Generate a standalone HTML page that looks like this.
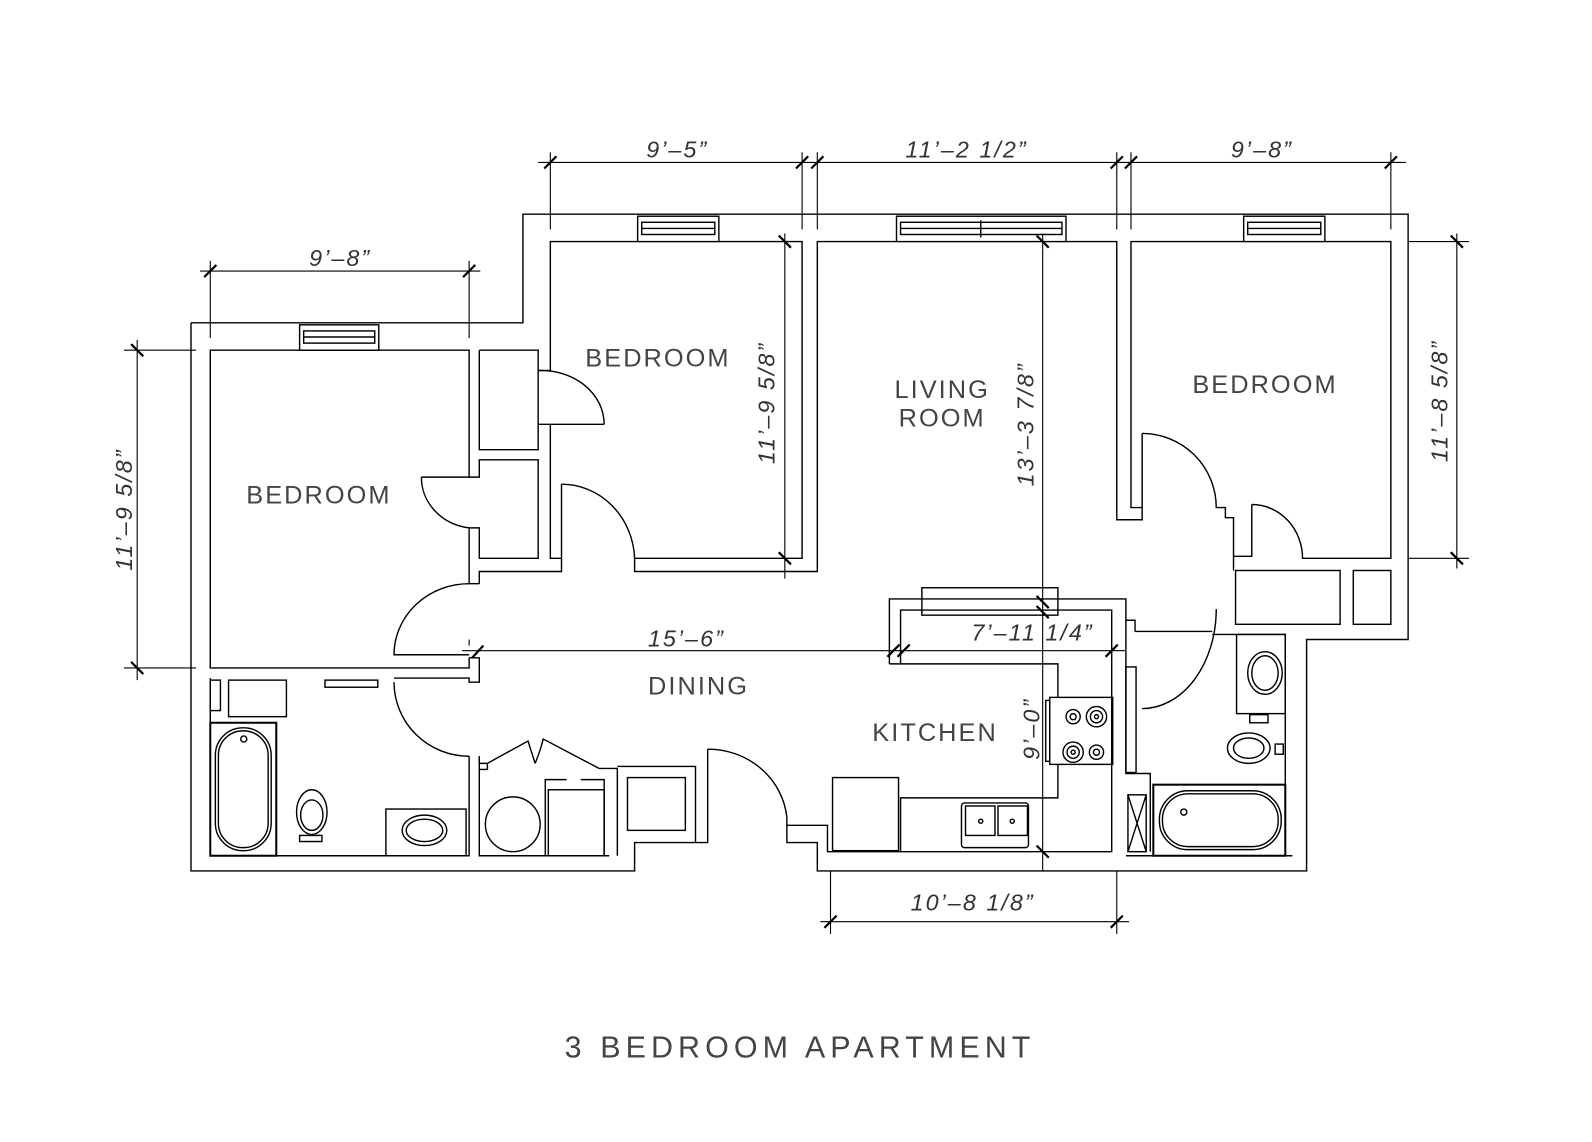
<!DOCTYPE html>
<html><head><meta charset="utf-8"><style>
html,body{margin:0;padding:0;background:#fff;}
svg{display:block;}
text{font-family:"Liberation Sans",sans-serif;fill:#333;}
.d{font-style:italic;font-size:23px;letter-spacing:2px;}
.l{font-size:25px;letter-spacing:2px;fill:#444;}
</style></head><body>
<svg width="1592" height="1142" viewBox="0 0 1568 1125" xmlns="http://www.w3.org/2000/svg">
<g fill="none" stroke="#000" stroke-width="1.4">
<polyline points="188,318 515,318 515,211 1387,211 1387,630 1287,630 1287,858 805,858 805,830 775,830 775,805"/>
<polyline points="697,738 697,830 625,830 625,858 188,858 188,318"/>
<polyline points="462,470 462,345 207,345 207,658 462,658 462,648"/>
<polyline points="462,520 462,575"/>
<polyline points="415,470 472,470 472,453 530,453 530,550 472,550 472,520 462,520"/>
<path d="M415,470 A54,50 0 0 0 462,520"/>
<polyline points="472,345 530,345 530,443 472,443 472,345"/>
<polyline points="472,575 462,575"/>
<polyline points="472,575 472,563 553,563 553,477"/>
<path d="M462,575 A74,70 0 0 0 388,645 L462,645"/>
<polyline points="462,648 472,648 472,672 462,672 462,668 388,668"/>
<polyline points="542,365 542,238 628,238"/>
<polyline points="708,238 790,238 790,550 625,550"/>
<polyline points="542,418 542,550 553,550"/>
<polyline points="530,365 542,365"/><polyline points="530,418 595,418"/>
<path d="M530,365 A62,53 0 0 1 595,418"/>
<path d="M553,477 A72,76 0 0 1 625,550 L625,563 805,563 805,238 883,238"/>
<polyline points="1050,238 1100,238 1100,512 1125,512 1125,427"/>
<path d="M1125,427 A73,73 0 0 1 1198,500 L1207,500 1207,510 1215,510 1215,548 1233,548 1233,497"/>
<path d="M1233,497 A50,53 0 0 1 1283,550 L1370,550 1370,238 1305,238"/>
<polyline points="1225,238 1114,238 1114,500 1125,500"/>
<rect x="1217" y="562" width="103" height="53"/>
<rect x="1333" y="562" width="37" height="53"/>
<polyline points="1215,548 1215,562"/>
<g>
<rect x="295" y="320" width="78" height="25"/><rect x="299" y="326" width="70" height="12"/><line x1="299" y1="332" x2="369" y2="332"/>
<rect x="628" y="213" width="80" height="25"/><rect x="632" y="219" width="72" height="12"/><line x1="632" y1="225" x2="704" y2="225"/>
<rect x="883" y="213" width="167" height="25"/><rect x="887" y="219" width="159" height="12"/><line x1="887" y1="225" x2="1046" y2="225"/><line x1="966" y1="217" x2="966" y2="234"/>
<rect x="1225" y="213" width="80" height="25"/><rect x="1229" y="219" width="72" height="12"/><line x1="1229" y1="225" x2="1301" y2="225"/>
</g>
<polyline points="207,668 207,843 462,843 462,745"/>
<path d="M388,672 A74,73 0 0 0 462,745"/>
<polyline points="472,745 472,843 600,843"/>
<rect x="207" y="670" width="10" height="30"/>
<rect x="225" y="670" width="57" height="36"/>
<rect x="320" y="670" width="52" height="7"/>
<rect x="207" y="712" width="65" height="131" stroke-width="2"/>
<rect x="212" y="717" width="55" height="121" rx="27"/>
<rect x="215" y="720" width="49" height="115" rx="24"/>
<circle cx="240" cy="728" r="3"/>
<ellipse cx="307" cy="800" rx="15" ry="22"/><ellipse cx="307" cy="803" rx="11" ry="15"/>
<rect x="295" y="823" width="22" height="6"/>
<rect x="380" y="797" width="79" height="46"/>
<ellipse cx="418" cy="818" rx="22" ry="15"/><ellipse cx="418" cy="818" rx="18" ry="11"/>
<polyline points="472,745 472,752 480,752 480,758 472,758"/>
<polyline points="480,752 520,730 527,752"/>
<path d="M527,752 Q532,740 535,728 L590,757 598,757"/>
<circle cx="505" cy="812" r="27"/>
<polyline points="537,843 537,768 558,768"/><polyline points="572,768 595,768 595,843"/>
<rect x="540" y="778" width="55" height="65"/>
<polyline points="598,757 608,757 608,843"/>
<polyline points="608,755 685,755 685,830"/>
<rect x="618" y="766" width="57" height="52"/>
<path d="M697,738 A78,75 0 0 1 775,805"/>
<polyline points="876,654 876,590 1109,590 1109,611 1118,611 1118,622"/>
<polyline points="887,654 887,601 1095,601 1095,839 815,839 815,813 775,813"/>
<rect x="908" y="579" width="134" height="27"/>
<polyline points="876,654 1042,654 1042,687"/>
<rect x="1034" y="687" width="62" height="66"/>
<rect x="1030" y="690" width="4" height="60"/>
<circle cx="1057" cy="706" r="7"/><circle cx="1057" cy="706" r="3"/>
<circle cx="1080" cy="706" r="10"/><circle cx="1080" cy="706" r="6"/><circle cx="1080" cy="706" r="2"/>
<circle cx="1057" cy="741" r="10"/><circle cx="1057" cy="741" r="6"/><circle cx="1057" cy="741" r="2"/>
<circle cx="1080" cy="741" r="7"/><circle cx="1080" cy="741" r="3"/>
<polyline points="1042,753 1042,786 887,786 887,839"/>
<rect x="820" y="766" width="65" height="72"/>
<rect x="947" y="791" width="66" height="44" rx="3"/>
<rect x="951" y="794" width="29" height="29"/><rect x="983" y="794" width="29" height="29"/>
<circle cx="966" cy="809" r="2"/><circle cx="997" cy="809" r="2"/>
<polyline points="1109,611 1109,762 1133,762 1133,839"/>
<rect x="1109" y="657" width="10" height="104"/>
<polyline points="1118,622 1194,622"/>
<path d="M1198,600 A73,98 0 0 1 1125,698"/>
<polyline points="1194,625 1266,625 1266,843"/>
<rect x="1218" y="625" width="48" height="78"/>
<ellipse cx="1246" cy="663" rx="17" ry="21"/><ellipse cx="1246" cy="663" rx="13" ry="17"/>
<rect x="1231" y="704" width="18" height="8"/>
<ellipse cx="1230" cy="737" rx="21" ry="15"/><ellipse cx="1230" cy="737" rx="15" ry="10"/>
<rect x="1256" y="733" width="8" height="10"/>
<rect x="1136" y="773" width="130" height="70" stroke-width="2"/>
<rect x="1142" y="779" width="120" height="58" rx="28"/>
<rect x="1145" y="782" width="114" height="52" rx="25"/>
<circle cx="1166" cy="800" r="3"/>
<rect x="1111" y="783" width="18" height="56"/>
<line x1="1111" y1="783" x2="1129" y2="839"/><line x1="1129" y1="783" x2="1111" y2="839"/>
<line x1="1109" y1="843" x2="1273" y2="843"/>
</g>
<g fill="none" stroke="#000" stroke-width="1.1">
<line x1="530" y1="160" x2="1385" y2="160"/>
<line x1="542" y1="150" x2="542" y2="226"/><line x1="790" y1="150" x2="790" y2="226"/><line x1="805" y1="150" x2="805" y2="226"/>
<line x1="1100" y1="150" x2="1100" y2="226"/><line x1="1114" y1="150" x2="1114" y2="226"/><line x1="1370" y1="150" x2="1370" y2="226"/>
<line x1="197" y1="267" x2="473" y2="267"/>
<line x1="207" y1="257" x2="207" y2="333"/><line x1="462" y1="257" x2="462" y2="333"/>
<line x1="135" y1="335" x2="135" y2="670"/>
<line x1="122" y1="345" x2="193" y2="345"/><line x1="122" y1="658" x2="193" y2="658"/>
<line x1="773" y1="230" x2="773" y2="570"/>
<line x1="1027" y1="230" x2="1027" y2="858"/>
<line x1="1435" y1="230" x2="1435" y2="560"/>
<line x1="1387" y1="238" x2="1447" y2="238"/><line x1="1387" y1="550" x2="1447" y2="550"/>
<line x1="808" y1="908" x2="1112" y2="908"/>
<line x1="818" y1="858" x2="818" y2="920"/><line x1="1100" y1="858" x2="1100" y2="920"/>
<line x1="455" y1="641" x2="1108" y2="641"/>
<line x1="462" y1="630" x2="462" y2="636"/>
</g>
<g stroke="#000" stroke-width="2.2">
<line x1="536" y1="166" x2="548" y2="154"/><line x1="784" y1="166" x2="796" y2="154"/><line x1="799" y1="166" x2="811" y2="154"/>
<line x1="1094" y1="166" x2="1106" y2="154"/><line x1="1108" y1="166" x2="1120" y2="154"/><line x1="1364" y1="166" x2="1376" y2="154"/>
<line x1="201" y1="273" x2="213" y2="261"/><line x1="456" y1="273" x2="468" y2="261"/>
<line x1="129" y1="339" x2="141" y2="351"/><line x1="129" y1="652" x2="141" y2="664"/>
<line x1="767" y1="232" x2="779" y2="244"/><line x1="767" y1="544" x2="779" y2="556"/>
<line x1="1021" y1="232" x2="1033" y2="244"/><line x1="1021" y1="587" x2="1033" y2="599"/><line x1="1021" y1="597" x2="1033" y2="609"/><line x1="1021" y1="833" x2="1033" y2="845"/>
<line x1="1429" y1="232" x2="1441" y2="244"/><line x1="1429" y1="544" x2="1441" y2="556"/>
<line x1="812" y1="914" x2="824" y2="902"/><line x1="1094" y1="914" x2="1106" y2="902"/>
<line x1="465" y1="648" x2="476" y2="636"/><line x1="874" y1="647" x2="886" y2="635"/><line x1="884" y1="647" x2="896" y2="635"/><line x1="1089" y1="647" x2="1101" y2="635"/>
</g>
<text class="d" x="335" y="262" text-anchor="middle">9’–8”</text>
<text class="d" x="667" y="155" text-anchor="middle">9’–5”</text>
<text class="d" x="952" y="155" text-anchor="middle">11’–2 1/2”</text>
<text class="d" x="1243" y="155" text-anchor="middle">9’–8”</text>
<text class="d" transform="translate(130,502) rotate(-90)" text-anchor="middle">11’–9 5/8”</text>
<text class="d" transform="translate(763,397) rotate(-90)" text-anchor="middle">11’–9 5/8”</text>
<text class="d" transform="translate(1018,418) rotate(-90)" text-anchor="middle">13’–3 7/8”</text>
<text class="d" transform="translate(1426,395) rotate(-90)" text-anchor="middle">11’–8 5/8”</text>
<text class="d" transform="translate(1024,718) rotate(-90)" text-anchor="middle">9’–0”</text>
<text class="d" x="676" y="637" text-anchor="middle">15’–6”</text>
<text class="d" x="1017" y="631" text-anchor="middle">7’–11 1/4”</text>
<text class="d" x="958" y="897" text-anchor="middle">10’–8 1/8”</text>
<text class="l" x="314" y="496" text-anchor="middle">BEDROOM</text>
<text class="l" x="648" y="361" text-anchor="middle">BEDROOM</text>
<text class="l" x="1246" y="387" text-anchor="middle">BEDROOM</text>
<text class="l" x="928" y="392" text-anchor="middle">LIVING</text>
<text class="l" x="928" y="420" text-anchor="middle">ROOM</text>
<text class="l" x="688" y="684" text-anchor="middle">DINING</text>
<text class="l" x="921" y="730" text-anchor="middle">KITCHEN</text>
<text x="788" y="1042" text-anchor="middle" style="font-size:30px;letter-spacing:5px;fill:#444;">3 BEDROOM APARTMENT</text>
</svg>
</body></html>
